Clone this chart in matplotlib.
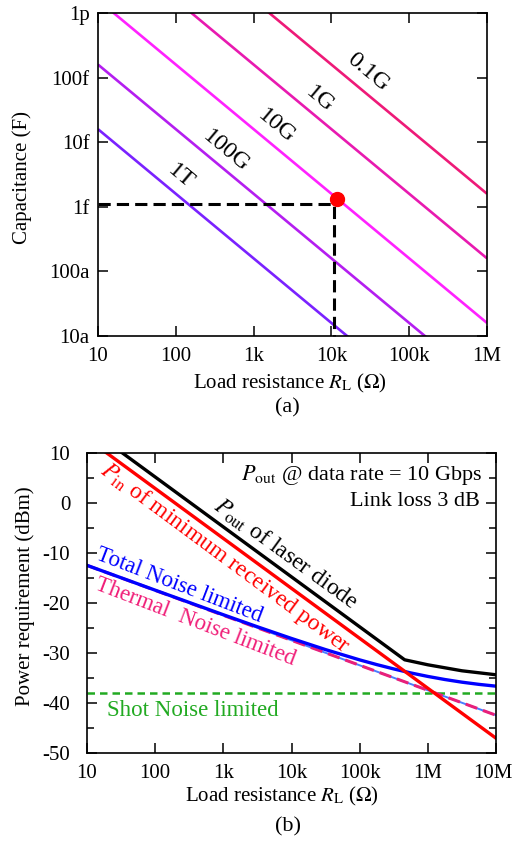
import numpy as np
import matplotlib
matplotlib.use("Agg")
import matplotlib.pyplot as plt
from matplotlib.transforms import ScaledTranslation

plt.rcParams['font.family'] = ['Liberation Serif', 'DejaVu Serif']
plt.rcParams['mathtext.fontset'] = 'stix'

# ---------------- data: panel (a) ----------------
bandwidths = [0.1e9, 1e9, 10e9, 100e9, 1e12]
bw_labels = ['0.1G', '1G', '10G', '100G', '1T']
bw_colors = ['#ee1a78', '#e81ab0', '#ff22ff', '#b41ef0', '#7a22ff']
bw_label_R = [29.5e3, 7.1e3, 1.94e3, 442, 117]
bw_label_C = [1.22e-13, 4.67e-14, 1.75e-14, 7.43e-15, 2.94e-15]
R_span_a = [10, 1e6]
a_xticks = [10, 100, 1e3, 1e4, 1e5, 1e6]
a_xticklabels = ['10', '100', '1k', '10k', '100k', '1M']
a_yticks = [1e-17, 1e-16, 1e-15, 1e-14, 1e-13, 1e-12]
a_yticklabels = ['10a', '100a', '1f', '10f', '100f', '1p']
design_R, design_C = 11.7e3, 1.3e-15
guide_R, guide_C = 10.9e3, 1.10e-15

# ---------------- data: panel (b) ----------------
R_total = [10, 100, 1e3, 3.16e3, 1e4, 3.16e4, 1e5, 1.78e5, 3.16e5, 5.62e5,
           1e6, 1.78e6, 3.16e6, 5.62e6, 1e7]
P_total = [-12.49, -17.46, -22.38, -24.79, -27.13, -29.36, -31.42, -32.36,
           -33.23, -34.03, -34.73, -35.35, -35.88, -36.32, -36.68]
R_thermal = [10, 1e7]
P_thermal = [-12.5, -42.5]
R_shot = [10, 1e7]
P_shot = [-38, -38]
R_pin = [10, 1e7]
P_pin = [12.9, -47.1]
R_pout = [10, 100, 1e3, 1e4, 1e5, 4.57e5, 1e6, 1.78e6, 3.16e6, 5.62e6, 1e7]
P_pout = [15.2, 5.2, -4.8, -14.8, -24.8, -31.4, -32.4, -33.0, -33.6, -34.0, -34.4]
b_xticks = [10, 100, 1e3, 1e4, 1e5, 1e6, 1e7]
b_xticklabels = ['10', '100', '1k', '10k', '100k', '1M', '10M']
b_yticks = [-50, -40, -30, -20, -10, 0, 10]

W, H = 514, 847
fig = plt.figure(figsize=(W / 100, H / 100), dpi=100)


def px_axes(l, t, r, b):
    return fig.add_axes([l / W, 1 - b / H, (r - l) / W, (b - t) / H])


def style_axes(ax):
    for s in ax.spines.values():
        s.set_linewidth(1.2)
    ax.tick_params(which='both', direction='in', top=True, right=True,
                   width=1.1, labelsize=15)
    ax.tick_params(which='major', length=7)
    ax.tick_params(which='minor', length=5)


# ---------------- panel (a) ----------------
axa = px_axes(98, 13, 487, 336)
axa.set_xscale('log')
axa.set_yscale('log')
axa.set_xlim(10, 1e6)
axa.set_ylim(1e-17, 1e-12)
R_arr = np.array(R_span_a)
for f, lab, col, lx, ly in zip(bandwidths, bw_labels, bw_colors, bw_label_R, bw_label_C):
    axa.plot(R_arr, 1 / (2 * np.pi * f * R_arr), color=col, lw=1.9, solid_capstyle='butt')
    axa.text(lx, ly, lab, rotation=-40, rotation_mode='anchor', ha='center', va='center',
             fontsize=17.5, color='black')
axa.plot([10, guide_R, guide_R], [guide_C, guide_C, 1e-17], color='black', lw=2.2,
         ls=(0, (4, 2)), clip_on=False)
axa.plot([design_R], [design_C], 'o', color='#ff0000', ms=10, zorder=5)
axa.set_xticks(a_xticks)
axa.set_xticklabels(a_xticklabels)
axa.set_yticks(a_yticks)
axa.set_yticklabels(a_yticklabels)
axa.minorticks_off()
style_axes(axa)
axa.tick_params(axis='x', pad=8)
axa.tick_params(axis='y', pad=6)

fig.text(290 / W, 1 - 383 / H, r'Load resistance $R_\mathrm{L}$ ($\Omega$)', ha='center',
         va='center', fontsize=15)
fig.text(22 / W, 1 - 177 / H, 'Capacitance (F)', ha='center', va='center',
         rotation=90, fontsize=15)
fig.text(287 / W, 1 - 408 / H, '(a)', ha='center', va='center', fontsize=16)

# ---------------- panel (b) ----------------
axb = px_axes(87, 453, 496, 752.7)
axb.set_xscale('log')
axb.set_xlim(10, 1e7)
axb.set_ylim(-50, 10)
axb.plot(R_shot, P_shot, color='#22aa22', lw=1.8, ls=(0, (3, 2)))
axb.plot(R_thermal, P_thermal, color='#4a7cff', lw=1.4)
axb.plot(R_thermal, P_thermal, color='#e8207a', lw=2.2, ls=(0, (4, 2)))
axb.plot(R_total, P_total, color='#0000ff', lw=2.4)
axb.plot(R_pin, P_pin, color='#ff0000', lw=2.4)
axb.plot(R_pout, P_pout, color='black', lw=2.4)

axb.set_xticks(b_xticks)
axb.set_xticklabels(b_xticklabels)
axb.set_yticks(b_yticks)
axb.set_yticklabels([str(v) for v in b_yticks])
axb.xaxis.set_minor_locator(matplotlib.ticker.NullLocator())
axb.yaxis.set_minor_locator(matplotlib.ticker.MultipleLocator(5))
style_axes(axb)
axb.tick_params(axis='x', pad=8)
axb.tick_params(axis='y', pad=12)
# nudge the last x tick label so it stays inside the canvas
last_lbl = axb.get_xticklabels()[-1]
last_lbl.set_transform(last_lbl.get_transform() +
                       ScaledTranslation(-3 / 100, 0, fig.dpi_scale_trans))

axb.text(6.4e6, 5.5, r'$P_\mathrm{out}$ @ data rate = 10 Gbps', ha='right', va='center',
         fontsize=16)
axb.text(5.8e6, 0.2, 'Link loss 3 dB', ha='right', va='center', fontsize=16)
axb.text(8.28e3, -10.3, r'$P_\mathrm{out}$ of laser diode', rotation=-36,
         rotation_mode='anchor', ha='center', va='center', fontsize=17, color='black')
axb.text(1.05e3, -11.1, r'$P_\mathrm{in}$ of minimum received power', rotation=-36.5,
         rotation_mode='anchor', ha='center', va='center', fontsize=17, color='#ff0000')
axb.text(223, -16.6, 'Total Noise limited', rotation=-21, rotation_mode='anchor',
         ha='center', va='center', fontsize=16.5, color='#0000ff')
axb.text(384, -23.8, 'Thermal  Noise limited', rotation=-21, rotation_mode='anchor',
         ha='center', va='center', fontsize=16.5, color='#f01e78')
axb.text(19.6, -41.6, 'Shot Noise limited', ha='left', va='center', fontsize=16.5,
         color='#22aa22')

fig.text(282 / W, 1 - 796 / H, r'Load resistance $R_\mathrm{L}$ ($\Omega$)', ha='center',
         va='center', fontsize=15)
fig.text(25 / W, 1 - 596 / H, 'Power requirement (dBm)', ha='center', va='center',
         rotation=90, fontsize=15)
fig.text(288 / W, 1 - 827 / H, '(b)', ha='center', va='center', fontsize=16)

fig.savefig('out.png', dpi=100)
